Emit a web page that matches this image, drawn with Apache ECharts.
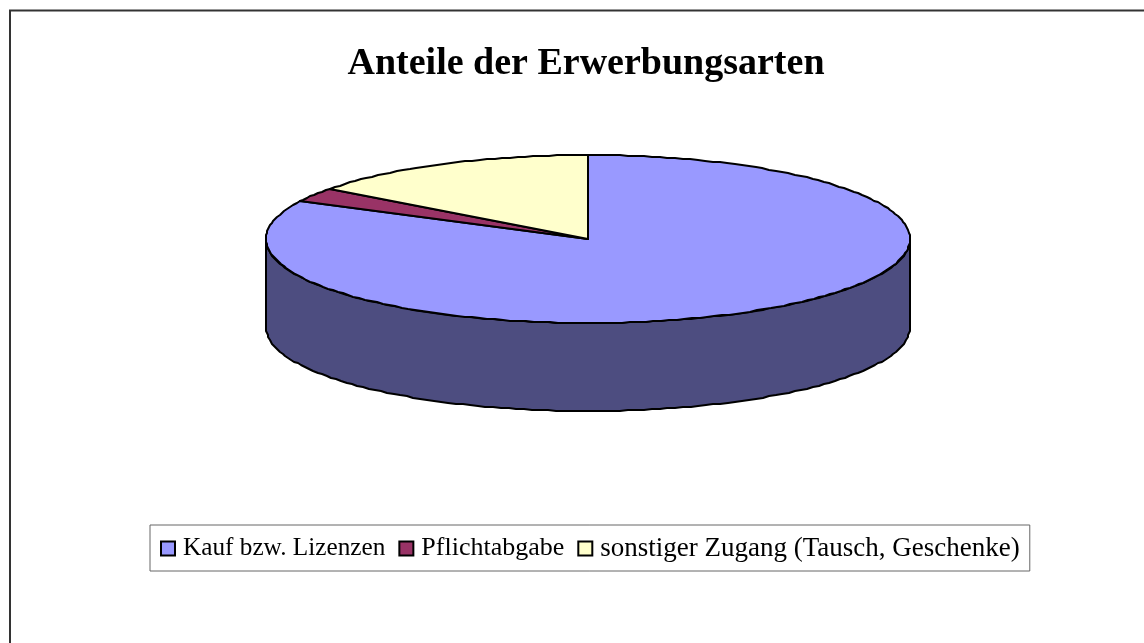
<!DOCTYPE html>
<html>
<head>
<meta charset="utf-8">
<style>
  html, body { margin: 0; padding: 0; background: #fff; }
  #chart { width: 1144px; height: 643px; }
</style>
<script src="https://cdn.jsdelivr.net/npm/echarts@6/dist/echarts.min.js"></script>
</head>
<body>
<div id="chart"></div>
<script>
const categories = ['Kauf bzw. Lizenzen', 'Pflichtabgabe', 'sonstiger Zugang (Tausch, Geschenke)'];
const shares = [82.4, 2.8, 14.8];
const colors = ['#9999FF', '#993366', '#FFFFCC'];
const wallColor = '#4D4D80';
const legendFontSizes = [25.25, 26, 27];

// tilted pie geometry
const cx = 588, cy = 239, rx = 322, ry = 84, depth = 88;

const total = shares.reduce((a, b) => a + b, 0);

// point on the top ellipse, angle clockwise from 12 o'clock
// snapped to whole pixels, the original rim is a bit jagged too
function rim(angle, dy) {
  return [Math.round(cx + rx * Math.sin(angle)), Math.round(cy - ry * Math.cos(angle)) + (dy || 0)];
}

function arc(from, to, dy) {
  const pts = [];
  const steps = Math.ceil(Math.abs(to - from) / 0.025);
  for (let i = 0; i <= steps; i++) {
    pts.push(rim(from + (to - from) * i / steps, dy));
  }
  return pts;
}

const stroke = { stroke: '#000', lineWidth: 2, lineJoin: 'round' };

function renderSlice(index, color) {
  const before = shares.slice(0, index).reduce((a, b) => a + b, 0);
  const start = before / total * Math.PI * 2;
  const end = (before + shares[index]) / total * Math.PI * 2;
  const children = [];
  // front wall, only the part of the slice that faces the viewer
  const wallFrom = Math.max(start, Math.PI / 2);
  const wallTo = Math.min(end, Math.PI * 3 / 2);
  if (wallTo > wallFrom) {
    children.push({
      type: 'polygon',
      shape: { points: arc(wallFrom, wallTo, 0).concat(arc(wallTo, wallFrom, depth)) },
      style: { fill: wallColor, ...stroke }
    });
  }
  children.push({
    type: 'polygon',
    shape: { points: [[cx, cy]].concat(arc(start, end, 0)) },
    style: { fill: color, ...stroke }
  });
  return { type: 'group', children };
}

const series = categories.map((name, i) => ({
  name,
  type: 'custom',
  coordinateSystem: 'none',
  silent: true,
  itemStyle: { color: colors[i], borderColor: '#000', borderWidth: 2 },
  data: [shares[i]],
  renderItem: () => renderSlice(i, colors[i])
}));

const chart = echarts.init(document.getElementById('chart'), null, { renderer: 'canvas' });
chart.setOption({
  animation: false,
  backgroundColor: '#fff',
  title: {
    text: 'Anteile der Erwerbungsarten',
    left: 581,
    top: 40,
    textAlign: 'center',
    textStyle: { fontFamily: 'Liberation Serif', fontSize: 38, fontWeight: 'bold', color: '#000' }
  },
  legend: {
    data: categories.map((name, i) => ({
      name,
      textStyle: { fontFamily: 'Liberation Serif', fontSize: legendFontSizes[i], color: '#000', padding: [0, 0, 0, 3] }
    })),
    left: 150,
    top: 525,
    width: 880,
    orient: 'horizontal',
    icon: 'rect',
    itemWidth: 14,
    itemHeight: 14,
    itemGap: 13,
    padding: [10, 10, 9, 10],
    borderColor: '#666',
    borderWidth: 1,
    backgroundColor: '#fff',
    selectedMode: false,
    textStyle: { fontFamily: 'Liberation Serif', fontSize: 25, color: '#000' }
  },
  graphic: [{
    type: 'polyline',
    silent: true,
    shape: { points: [[10, 643], [10, 10.5], [1144, 10.5]] },
    style: { stroke: '#333', lineWidth: 2, fill: null }
  }],
  series
});
</script>
</body>
</html>
